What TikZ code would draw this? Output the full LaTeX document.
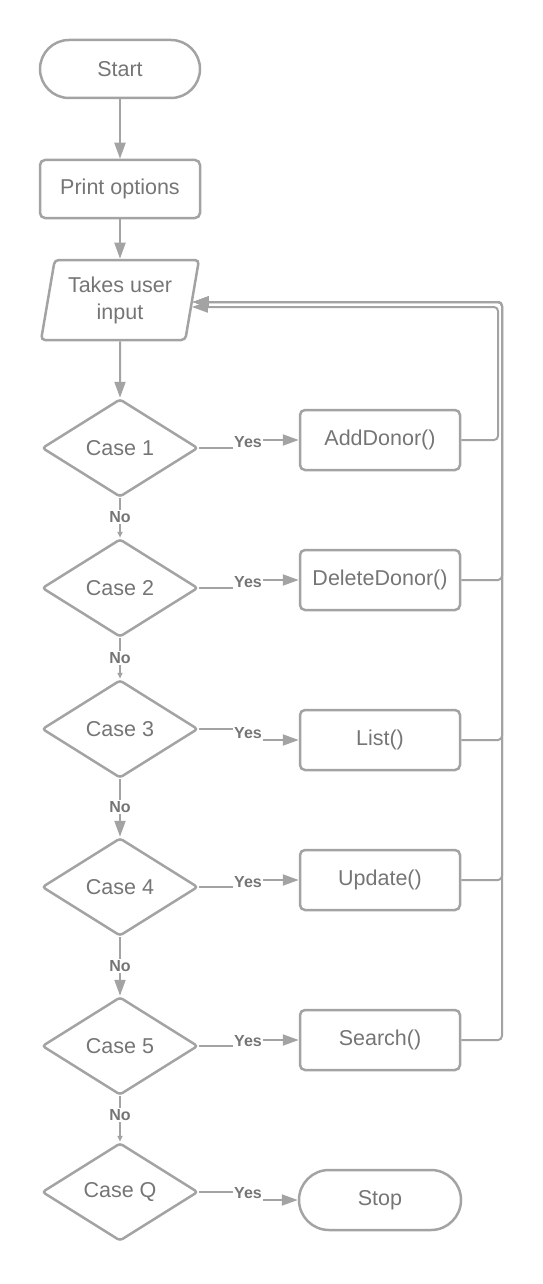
\documentclass[tikz,border=0pt]{standalone}
\usepackage{fontspec}
\setmainfont{Liberation Sans}
\definecolor{LineGray}{HTML}{A3A3A3}
\definecolor{TextGray}{HTML}{757575}
\usetikzlibrary{arrows.meta,shapes.geometric,calc}

\begin{document}
\begin{tikzpicture}[x=1pt,y=-1pt,
    base/.style={draw=LineGray,line width=2.5pt,text=TextGray,
                 font=\fontsize{21.5}{27}\selectfont,align=center,
                 inner sep=0pt},
    term/.style={base,rounded corners=29pt,minimum width=160pt,
                 minimum height=58pt},
    proc/.style={base,rounded corners=5pt,minimum width=160pt,
                 minimum height=60pt},
    io/.style={base,trapezium,trapezium left angle=77,
               trapezium right angle=103,trapezium stretches=true,
               minimum width=158pt,minimum height=80pt,rounded corners=4pt},
    case/.style={base,diamond,aspect=1.6,minimum width=156pt,
                 minimum height=98pt,rounded corners=3pt},
    flow/.style={draw=LineGray,line width=2pt},
    big/.style={flow,-{Triangle[length=16pt,width=11pt]}},
    small/.style={flow,-{Triangle[length=6pt,width=5pt]}},
    lbl/.style={text=TextGray,font=\fontsize{16}{16}\selectfont\bfseries,
                inner sep=1pt}]

    \useasboundingbox (0,0) rectangle (543,1284);

    % main column
    \node[term] (start) at (120,69)  {Start};
    \node[proc,minimum height=58pt] (print) at (120,189) {Print options};
    \node[io]   (inp)   at (120,300) {Takes user\\input};
    \node[case] (c1) at (120,448)  {Case 1};
    \node[case] (c2) at (120,588)  {Case 2};
    \node[case] (c3) at (120,729)  {Case 3};
    \node[case] (c4) at (120,887)  {Case 4};
    \node[case] (c5) at (120,1046) {Case 5};
    \node[case] (cq) at (120,1192) {Case Q};

    % actions
    \node[proc] (add)  at (380,440)  {AddDonor()};
    \node[proc] (del)  at (380,580)  {DeleteDonor()};
    \node[proc] (lst)  at (380,740)  {List()};
    \node[proc] (upd)  at (380,880)  {Update()};
    \node[proc] (srch) at (380,1040) {Search()};
    \node[term,minimum width=162pt,minimum height=60pt,rounded corners=30pt]
         (stop) at (380,1200) {Stop};

    \draw[big] (start) -- (print);
    \draw[big] (print) -- (inp);
    \draw[big] (inp) -- (c1);

    % no branches
    \node[lbl] (no1) at (120,517)  {No};
    \node[lbl] (no2) at (120,658)  {No};
    \node[lbl] (no3) at (120,807)  {No};
    \node[lbl] (no4) at (120,966)  {No};
    \node[lbl] (no5) at (120,1115) {No};
    \foreach \a/\n/\b/\tip in {c1/no1/c2/small,c2/no2/c3/small,c3/no3/c4/big,
                               c4/no4/c5/big,c5/no5/cq/small}{
      \draw[flow] (\a) -- (\n);
      \draw[\tip] (\n) -- (\b);
    }

    % yes branches
    \node[lbl] (y1) at (248,442)  {Yes};
    \node[lbl] (y2) at (248,582)  {Yes};
    \node[lbl] (y3) at (248,733)  {Yes};
    \node[lbl] (y4) at (248,882)  {Yes};
    \node[lbl] (y5) at (248,1041) {Yes};
    \node[lbl] (yq) at (248,1193) {Yes};
    \foreach \a/\y/\b in {c1/y1/add,c2/y2/del,c3/y3/lst,c4/y4/upd,
                          c5/y5/srch,cq/yq/stop}{
      \draw[flow] (\a.east) -- (\a.east -| \y.west);
      \draw[big] (\y.east |- \b.west) -- (\b.west);
    }

    % back to input
    \coordinate (loopA) at (498,307);
    \coordinate (loopB) at (502,302);
    \draw[big,rounded corners=4pt] (add.east) -| (loopA)
         -- ($(inp.east)+(-1.5,7)$);
    \foreach \b in {del,lst,upd,srch}{
      \draw[big,rounded corners=4pt] (\b.east) -| (loopB)
           -- ($(inp.east)+(-0.5,2)$);
    }
\end{tikzpicture}
\end{document}
